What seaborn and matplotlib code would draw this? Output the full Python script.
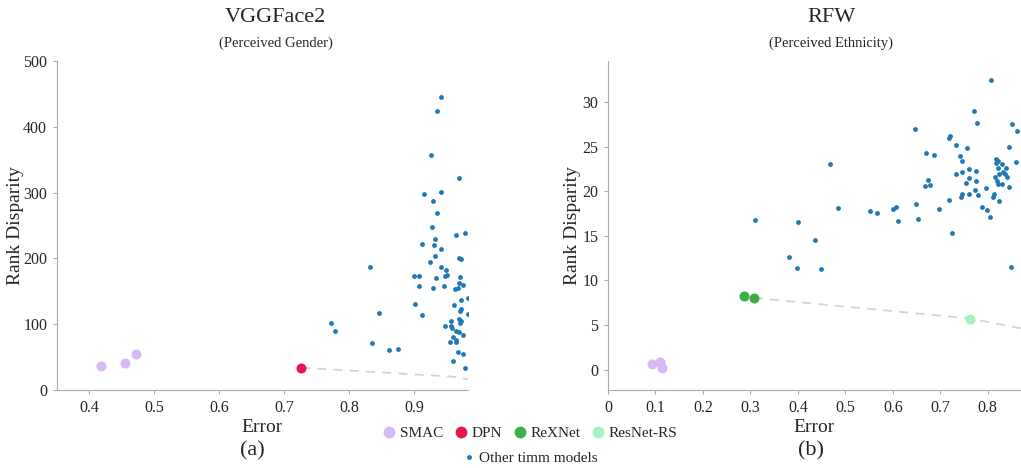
"""
Rank disparity vs. error on VGGFace2 and RFW, Pareto-optimal models highlighted.
"""
import numpy as np
import pandas as pd
import matplotlib
matplotlib.use('Agg')
import matplotlib.pyplot as plt
from matplotlib.lines import Line2D
from matplotlib.ticker import FuncFormatter
import seaborn as sns

# ---- VGGFace2 (perceived gender) ----
vgg_other_err = [0.941, 0.935, 0.926, 0.970, 0.916, 0.941, 0.929, 0.935, 0.928, 0.933,
                 0.964, 0.978, 0.912, 0.930, 0.942, 0.932, 0.969, 0.972, 0.925, 0.942,
                 0.949, 0.948, 0.951, 0.900, 0.907, 0.934, 0.971, 0.969, 0.976, 0.908,
                 0.929, 0.946, 0.963, 0.968, 0.983, 0.901, 0.961, 0.972, 0.913, 0.973,
                 0.971, 0.983, 0.970, 0.973, 0.971, 0.957, 0.947, 0.957, 0.959, 0.965,
                 0.969, 0.975, 0.960, 0.964, 0.964, 0.956, 0.967, 0.975, 0.960, 0.979,
                 0.772, 0.779, 0.832, 0.846, 0.836, 0.861, 0.875]
vgg_other_disp = [444.8, 424.5, 356.6, 321.7, 297.4, 300.9, 287.7, 269.5, 248.2, 230.0,
                  235.6, 238.6, 222.3, 220.4, 214.8, 204.1, 201.0, 199.5, 194.5, 186.5,
                  181.9, 173.3, 175.2, 173.3, 173.3, 170.7, 172.2, 162.6, 159.1, 158.5,
                  155.5, 157.6, 153.5, 155.0, 139.8, 130.7, 128.7, 136.3, 113.5, 122.6,
                  120.1, 115.0, 107.4, 104.6, 101.8, 104.4, 97.3, 97.7, 94.7, 89.7,
                  88.1, 83.1, 81.0, 76.4, 73.4, 72.5, 58.2, 55.2, 44.0, 33.9,
                  102.3, 90.2, 187.4, 116.5, 71.4, 60.8, 62.8]
vgg_smac_err = [0.418, 0.455, 0.471]
vgg_smac_disp = [36.0, 40.5, 54.2]
vgg_dpn_err = [0.726]
vgg_dpn_disp = [33.9]
vgg_front_err = [0.726, 0.960, 1.0]
vgg_front_disp = [33.9, 20.3, 13.0]

# ---- RFW (perceived ethnicity) ----
rfw_other_err = [0.806, 0.770, 0.778, 0.851, 0.861, 0.646, 0.720, 0.718, 0.734, 0.757,
                 0.844, 0.669, 0.686, 0.468, 0.860, 0.741, 0.745, 0.818, 0.822, 0.817,
                 0.830, 0.822, 0.839, 0.832, 0.836, 0.824, 0.841, 0.816, 0.820, 0.821,
                 0.830, 0.844, 0.760, 0.775, 0.745, 0.734, 0.761, 0.776, 0.755, 0.674,
                 0.667, 0.679, 0.773, 0.797, 0.746, 0.743, 0.761, 0.780, 0.813, 0.812,
                 0.823, 0.719, 0.648, 0.485, 0.551, 0.566, 0.601, 0.606, 0.697, 0.787,
                 0.799, 0.804, 0.611, 0.652, 0.725, 0.309, 0.401, 0.437, 0.381, 0.398,
                 0.448, 0.849]
rfw_other_disp = [32.5, 29.0, 27.6, 27.5, 26.7, 27.0, 26.2, 26.0, 25.2, 24.9,
                  25.0, 24.3, 24.1, 23.1, 23.3, 23.9, 23.4, 23.6, 23.4, 23.15,
                  23.1, 22.6, 22.6, 22.2, 21.9, 21.9, 21.6, 21.6, 21.1, 20.8,
                  20.8, 20.5, 22.5, 22.3, 22.2, 21.9, 21.5, 21.1, 20.9, 21.3,
                  20.6, 20.7, 20.1, 20.4, 19.7, 19.4, 19.65, 19.6, 19.65, 19.4,
                  18.9, 19.0, 18.6, 18.1, 17.8, 17.6, 18.0, 18.2, 18.0, 18.2,
                  17.9, 17.15, 16.7, 16.85, 15.3, 16.8, 16.6, 14.5, 12.6, 11.4,
                  11.3, 11.5]
rfw_smac_err = [0.093, 0.109, 0.113]
rfw_smac_disp = [0.64, 0.9, 0.15]
rfw_rexnet_err = [0.286, 0.307]
rfw_rexnet_disp = [8.28, 8.05]
rfw_resnetrs_err = [0.763]
rfw_resnetrs_disp = [5.74]
rfw_front_err = [0.307, 0.763, 0.90]
rfw_front_disp = [8.05, 5.74, 4.32]

COLORS = {"SMAC": "#d7b9f6", "DPN": "#e3184d", "ReXNet": "#3bae48",
          "ResNet-RS": "#a6f2c0", "Other": "#1f77b4"}

sns.set_style("white")
plt.rcParams['font.family'] = ['Liberation Serif', 'DejaVu Serif']
plt.rcParams['axes.edgecolor'] = '#aaaaaa'

fig = plt.figure(figsize=(10.21, 4.68), dpi=100)
ax1 = fig.add_axes([0.0558, 0.1667, 0.4025, 0.703])
ax2 = fig.add_axes([0.5955, 0.1667, 0.4045, 0.703])


def draw_panel(ax, other, highlights, front, ylab_x):
    sns.lineplot(x=front[0], y=front[1], ax=ax, color="#d3d3d3", lw=1.3,
                 linestyle=(0, (5, 4)), sort=False, zorder=1)
    sns.scatterplot(x=other[0], y=other[1], ax=ax, color=COLORS["Other"],
                    s=12, linewidth=0, zorder=3)
    for name, xs, ys in highlights:
        sns.scatterplot(x=xs, y=ys, ax=ax, color=COLORS[name], s=52,
                        linewidth=0, zorder=4)
    sns.despine(ax=ax)
    ax.tick_params(axis='both', labelsize=11.5, length=3, color='#aaaaaa',
                   direction='out', left=True, bottom=True, pad=4)
    ax.set_xlabel("Error", fontsize=14, va='center')
    ax.set_ylabel("Rank Disparity", fontsize=14, va='center')
    ax.xaxis.set_label_coords(0.5, -0.115)
    ax.yaxis.set_label_coords(ylab_x, 0.5)
    ax.xaxis.set_major_formatter(FuncFormatter(lambda v, p: f"{v:g}"))


draw_panel(ax1, (vgg_other_err, vgg_other_disp),
           [("SMAC", vgg_smac_err, vgg_smac_disp), ("DPN", vgg_dpn_err, vgg_dpn_disp)],
           (vgg_front_err, vgg_front_disp), -0.102)
ax1.set_xlim(0.35, 0.983)
ax1.set_ylim(0, 500)
ax1.set_xticks([0.4, 0.5, 0.6, 0.7, 0.8, 0.9])
ax1.set_yticks([0, 100, 200, 300, 400, 500])

draw_panel(ax2, (rfw_other_err, rfw_other_disp),
           [("SMAC", rfw_smac_err, rfw_smac_disp), ("ReXNet", rfw_rexnet_err, rfw_rexnet_disp),
            ("ResNet-RS", rfw_resnetrs_err, rfw_resnetrs_disp)],
           (rfw_front_err, rfw_front_disp), -0.085)
ax2.set_xlim(0, 0.87)
ax2.set_ylim(-2.27, 34.6)
ax2.set_xticks([0, 0.1, 0.2, 0.3, 0.4, 0.5, 0.6, 0.7, 0.8])
ax2.set_yticks([0, 5, 10, 15, 20, 25, 30])

# titles / panel tags
fig.text(0.270, 0.962, "VGGFace2", ha='center', va='center', fontsize=16)
fig.text(0.270, 0.908, "(Perceived Gender)", ha='center', va='center', fontsize=10.5)
fig.text(0.814, 0.962, "RFW", ha='center', va='center', fontsize=16)
fig.text(0.814, 0.908, "(Perceived Ethnicity)", ha='center', va='center', fontsize=10.5)
fig.text(0.247, 0.036, "(a)", ha='center', va='center', fontsize=16)
fig.text(0.794, 0.036, "(b)", ha='center', va='center', fontsize=16)

# legend: highlighted models on one row, the rest below
names = ["SMAC", "DPN", "ReXNet", "ResNet-RS"]
handles = [Line2D([], [], marker='o', ls='', color=COLORS[n], markersize=8.5, markeredgewidth=0)
           for n in names]
fig.legend(handles, names, loc='center', bbox_to_anchor=(0.518, 0.074), ncol=4,
           frameon=False, fontsize=11, handletextpad=0.1, columnspacing=0.55,
           handlelength=1.2)
other_h = Line2D([], [], marker='o', ls='', color=COLORS["Other"], markersize=3.5,
                 markeredgewidth=0)
fig.legend([other_h], ["Other timm models"], loc='center', bbox_to_anchor=(0.518, 0.021),
           frameon=False, fontsize=11, handletextpad=0.1, handlelength=1.2)

fig.savefig("out.png", dpi=100)
